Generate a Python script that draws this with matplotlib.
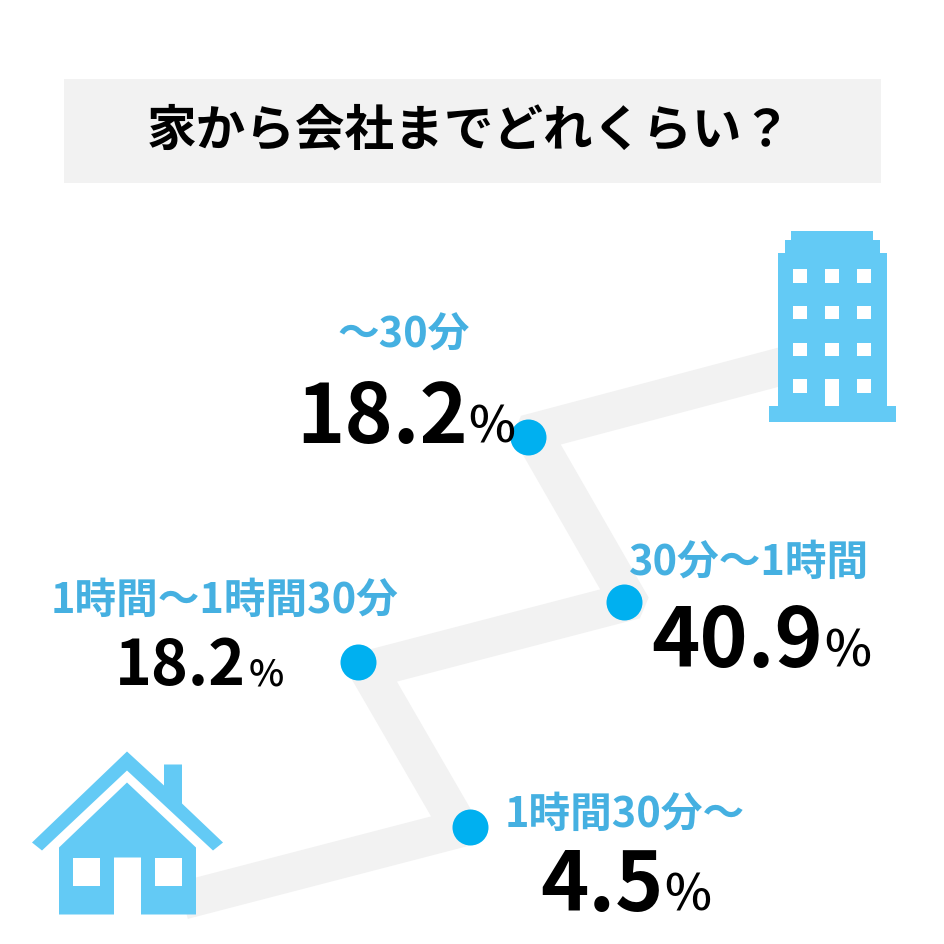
import numpy as np
import matplotlib
matplotlib.use("Agg")
import matplotlib.pyplot as plt
from matplotlib.patches import Polygon, Rectangle

plt.rcParams["font.family"] = ["Noto Sans CJK JP", "DejaVu Sans"]

TITLE = "家から会社までどれくらい？"
labels = ["〜30分", "30分〜1時間", "1時間〜1時間30分", "1時間30分〜"]
values = [18.2, 40.9, 18.2, 4.5]

# layout, all in pixels of the 945x945 picture
dot_x = [528, 624, 358, 470]
dot_y = [437, 602, 662, 827]
route_x = [183, 460, 368, 629, 532, 800]
route_y = [901, 829, 670, 602, 433, 362]
label_pos = [(404, 347), (749, 574), (225, 612), (625, 826)]
value_pos = [(296, 442), (651, 666), (115, 685), (540, 910)]
value_size = [59, 59, 45, 59]
pct_size = [36, 36, 27, 36]
pct_gap = [1, 1, 3, 1]

GREY = "#f2f2f2"
ICON = "#63caf5"
DOT = "#00b0f0"
LABEL = "#45b0e1"


def chamfer(xs, ys, d=3.0):
    # cut the inner vertices a little so the thick line gets a blunt corner
    pts = np.column_stack([xs, ys]).astype(float)
    out = [pts[0]]
    for i in range(1, len(pts) - 1):
        a = pts[i - 1] - pts[i]
        b = pts[i + 1] - pts[i]
        out.append(pts[i] + a / np.hypot(*a) * d)
        out.append(pts[i] + b / np.hypot(*b) * d)
    out.append(pts[-1])
    return np.array(out)


def draw_building(ax):
    ax.add_patch(Polygon([(791, 231), (873, 231), (873, 240), (880, 240), (880, 253),
                          (887, 253), (887, 406), (896, 406), (896, 422), (768.5, 422),
                          (768.5, 406), (778, 406), (778, 253), (785, 253), (785, 240),
                          (791, 240)], color=ICON, lw=0, zorder=3))
    for wy, wh in zip([269, 306, 343, 379], [14, 13.5, 13.5, 14]):
        for wx in [793, 825, 857]:
            ax.add_patch(Rectangle((wx, wy), 14, wh, color="white", lw=0, zorder=4))
    ax.add_patch(Rectangle((825, 379), 14, 27, color="white", lw=0, zorder=4))


def draw_house(ax):
    ax.add_patch(Polygon([(127, 752), (164, 786), (164, 765), (182, 765), (182, 804),
                          (223, 843), (213, 851), (127, 771), (42, 851), (32, 843)],
                         color=ICON, lw=0, zorder=3))
    ax.add_patch(Polygon([(127, 783), (196, 848), (196, 915), (141, 915), (141, 858),
                          (114, 858), (114, 915), (59, 915), (59, 848)],
                         color=ICON, lw=0, zorder=3))
    for wx in [73, 155]:
        ax.add_patch(Rectangle((wx, 858), 27, 28, color="white", lw=0, zorder=4))


fig = plt.figure(figsize=(9.45, 9.45), dpi=100)
ax = fig.add_axes([0, 0, 1, 1])
ax.set_xlim(0, 945)
ax.set_ylim(944.5, -0.5)
ax.axis("off")

ax.add_patch(Rectangle((64, 79), 817, 104, color=GREY, lw=0))
ax.text(469, 131, TITLE, fontsize=35.7, fontweight="bold", ha="center", va="center",
        color="black")

route = chamfer(route_x, route_y)
ax.plot(route[:, 0], route[:, 1], color=GREY, lw=38 * 0.72, zorder=1,
        solid_joinstyle="miter", solid_capstyle="butt")

draw_building(ax)
draw_house(ax)

ax.scatter(dot_x, dot_y, s=(36 * 0.72) ** 2, color=DOT, linewidths=0, zorder=5)

for i, lab in enumerate(labels):
    ax.text(label_pos[i][0], label_pos[i][1], lab, fontsize=30, fontweight="bold",
            color=LABEL, ha="center", va="baseline", zorder=6)
    t = ax.text(value_pos[i][0], value_pos[i][1], f"{values[i]:.1f}",
                fontsize=value_size[i], fontweight="bold", color="black",
                ha="left", va="baseline", zorder=6)
    bb = t.get_window_extent(fig.canvas.get_renderer())
    ax.text(bb.x1 + pct_gap[i], value_pos[i][1], "%", fontsize=pct_size[i],
            fontweight="medium", color="black", ha="left", va="baseline", zorder=6)

fig.savefig("out.png", dpi=100, facecolor="white")
